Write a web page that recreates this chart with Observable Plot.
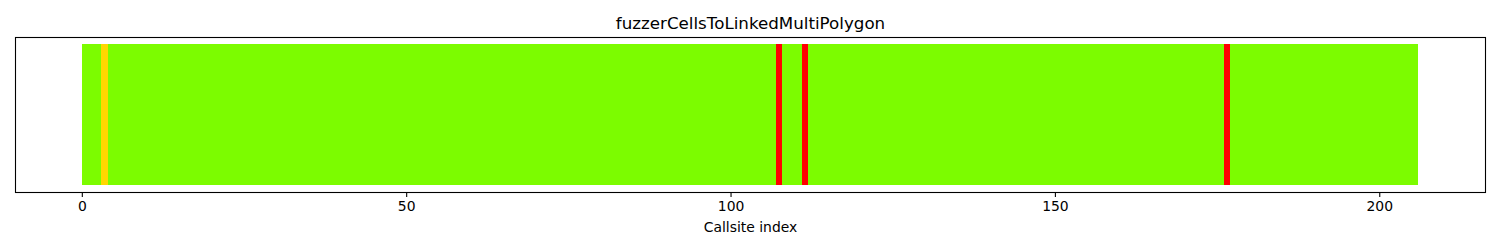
<!DOCTYPE html>
<html>
<head>
<meta charset="utf-8">
<script src="https://cdn.jsdelivr.net/npm/d3@7"></script>
<script src="https://cdn.jsdelivr.net/npm/@observablehq/plot@0.6"></script>
<style>
  html, body { margin: 0; padding: 0; background: #fff; }
  svg { display: block; }
</style>
</head>
<body>
<div id="chart"></div>
<script>
// ---- data ----
const title = "fuzzerCellsToLinkedMultiPolygon";
const xLabel = "Callsite index";
const callsiteCount = 206;          // callsites 0..205
const yellowCallsites = [3];
const redCallsites = [107, 111, 176];
const xTicks = [0, 50, 100, 150, 200];
const statusNames = ["covered", "partial", "uncovered"];
const statusColors = ["#7CFC00", "#FFD700", "#FF0000"];

// ---- table for Plot ----
const callsites = d3.range(callsiteCount).map(i => ({
  index: i,
  status: redCallsites.includes(i) ? "uncovered" : yellowCallsites.includes(i) ? "partial" : "covered"
}));

const font = "DejaVu Sans, sans-serif";
const chart = Plot.plot({
  width: 1500,
  height: 250,
  marginLeft: 15,
  marginRight: 15,
  marginTop: 37,
  marginBottom: 58,
  style: {fontFamily: font, background: "#fff"},
  x: {domain: [-10.3, 216.3], axis: null},
  y: {domain: [-0.05, 1.05], axis: null},
  color: {type: "ordinal", domain: statusNames, range: statusColors},
  marks: [
    Plot.rectY(callsites, {
      x1: d => d.index, x2: d => d.index + 1, y1: 0, y2: 1,
      fill: d => d.status, inset: 0, shapeRendering: "crispEdges"
    }),
    Plot.frame({stroke: "black", strokeWidth: 1.1}),
    Plot.axisX({ticks: xTicks, tickSize: 5, tickPadding: 4, fontSize: 13.9, tickFormat: d => d, stroke: "black", strokeWidth: 1.1, label: null}),
    Plot.text([xLabel], {frameAnchor: "bottom", dy: 35, lineAnchor: "middle", fontSize: 13.9, fill: "black", text: d => d}),
    Plot.text([title], {frameAnchor: "top", dy: -14, lineAnchor: "middle", fontSize: 16.7, fill: "black", text: d => d})
  ]
});
document.getElementById("chart").appendChild(chart);
</script>
</body>
</html>
